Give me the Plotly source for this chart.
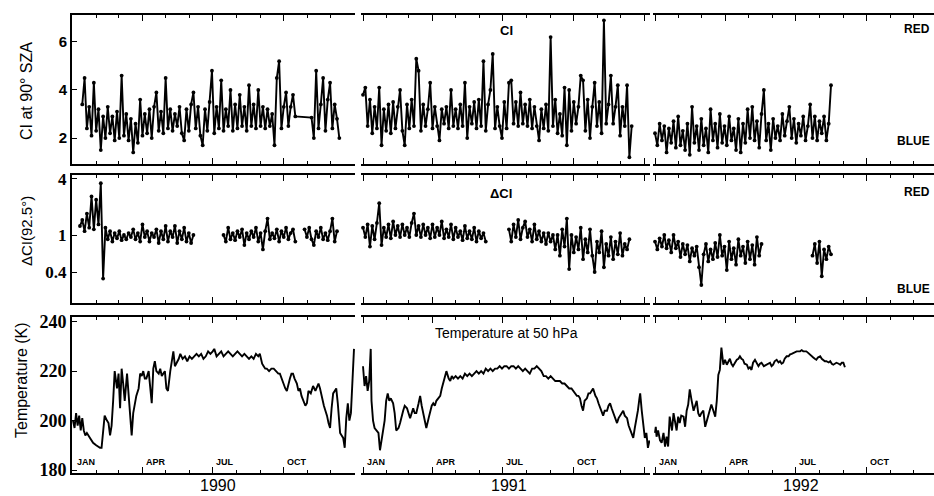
import numpy as np
import pandas as pd
import plotly.graph_objects as go
from plotly.subplots import make_subplots

# ---------------- data ----------------
years = [1990, 1991, 1992]
month_labels = ["JAN", "APR", "JUL", "OCT"]
month_label_months = [1, 4, 7, 10]
year_labels = ["1990", "1991", "1992"]

# Top panel: CI at 90 deg SZA, one value every 3 days from the start day (None = no data)
ci_start = [12, 0, 0]
ci_1990 = [3.4, 4.5, 2.4, 3.3, 2.1, 4.3, 2.3, 3.2, 1.5, 2.9,
           2.0, 3.3, 2.2, 2.9, 1.9, 3.1, 2.0, 4.6, 2.1, 3.0,
           1.9, 2.8, 1.4, 2.6, 1.8, 3.6, 2.1, 3.0, 2.2, 3.2,
           2.0, 3.3, 3.9, 2.3, 3.1, 2.2, 4.5, 2.4, 3.2, 2.3,
           3.0, 2.5, 3.3, 2.2, 1.9, 3.2, 2.3, 3.4, 3.9, 2.4,
           3.3, 2.1, 1.7, 3.2, 2.3, 3.5, 4.8, 2.2, 3.3, 2.4,
           4.4, 2.3, 3.2, 2.5, 4.0, 2.3, 3.4, 2.4, 3.8, 2.5,
           3.3, 2.3, 4.2, 2.5, 3.4, 2.4, 4.0, 2.5, 3.3, 2.4,
           3.2, 2.5, 3.0, 1.7, 4.5, 5.2, 2.4, 3.3, 3.9, 2.5,
           3.3, 3.8, 2.9, None, None, None, None, None, None, 2.85,
           2.0, 4.8, 2.4, 3.4, 4.5, 2.3, 3.6, 4.3, 2.4, 3.4,
           2.8, 2.0]
ci_1991 = [3.8, 4.1, 2.5, 3.6, 2.2, 3.3, 2.4, 4.1, 1.7, 3.2,
           2.3, 3.4, 2.2, 3.5, 2.4, 3.3, 4.0, 2.3, 1.7, 3.4,
           2.4, 3.6, 2.5, 5.3, 4.8, 2.3, 3.4, 2.5, 3.2, 4.3,
           2.4, 3.3, 2.5, 1.9, 3.2, 2.6, 3.3, 2.4, 4.0, 2.5,
           3.2, 2.4, 3.4, 2.5, 4.3, 2.0, 3.3, 2.6, 3.5, 2.4,
           3.6, 2.5, 5.2, 2.3, 3.4, 4.0, 5.5, 2.4, 3.3, 2.5,
           2.0, 3.5, 2.4, 4.3, 4.4, 2.6, 3.5, 2.5, 3.9, 2.6,
           3.4, 2.5, 3.6, 2.4, 3.3, 2.5, 1.9, 3.2, 2.4, 3.4,
           2.3, 6.2, 2.5, 3.6, 2.2, 3.0, 2.1, 4.1, 1.7, 4.0,
           2.3, 3.5, 2.6, 3.3, 4.6, 4.4, 2.3, 3.6, 2.0, 3.3,
           4.3, 2.5, 3.5, 2.2, 6.9, 2.6, 3.4, 4.6, 2.6, 3.3,
           4.2, 2.1, 3.3, 2.5, 4.2, 1.2, 2.5]
ci_1992 = [2.2, 1.7, 2.6, 1.9, 2.5, 1.4, 2.4, 1.8, 2.7, 1.6,
           2.9, 1.7, 2.3, 1.5, 2.6, 1.3, 3.3, 1.8, 2.5, 1.5,
           2.8, 1.7, 2.4, 1.4, 3.2, 1.9, 2.6, 1.6, 3.0, 1.8,
           2.5, 1.7, 2.9, 1.9, 2.4, 1.5, 2.8, 1.4, 2.6, 1.8,
           3.2, 2.0, 3.3, 1.9, 2.7, 1.6, 3.0, 4.0, 1.9, 2.6,
           1.5, 2.8, 2.0, 2.5, 1.9, 3.0, 2.1, 2.7, 3.3, 2.0,
           2.8, 1.8, 2.6, 2.1, 2.9, 1.9, 2.5, 3.4, 2.0, 2.9,
           1.9, 2.7, 2.2, 2.9, 1.9, 2.6, 4.2]

# Middle panel: delta CI (92.5 deg), segments of 3-day values: (start day, values)
dci_1990 = [(9, [1.25, 1.45, 1.1, 1.7, 1.2, 2.6, 1.15, 2.4, 1.3, 3.6,
                 0.34, 1.2, 0.9, 1.1, 0.85, 1.05, 0.92, 1.1, 0.88, 1.0,
                 0.9, 1.05, 0.95, 1.15, 0.9, 1.05, 0.85, 1.3, 0.95, 1.1,
                 0.85, 1.05, 0.95, 1.15, 0.82, 1.1, 0.9, 1.25, 0.85, 1.1,
                 0.95, 1.25, 0.82, 1.1, 0.9, 1.2, 0.85, 1.05, 0.82, 1.0]),
            (195, [1.0, 0.85, 1.2, 0.9, 1.05, 0.88, 1.1, 0.95, 1.15, 0.78,
                   1.05, 0.9, 1.1, 0.95, 1.2, 0.85, 1.05, 0.7, 1.1, 1.5,
                   0.9, 1.05, 0.92, 1.15, 0.85, 1.1, 0.95, 1.2, 0.9, 1.05,
                   1.15, 0.85]),
            (300, [1.15, 0.95, 1.2, 0.9, 0.78, 1.1, 0.95, 1.2, 0.9, 1.05,
                   0.88, 1.1, 1.5, 0.85, 1.1])]
dci_1991 = [(0, [1.2, 0.95, 1.3, 0.75, 1.25, 0.9, 1.35, 2.2, 0.78, 1.2,
                 0.95, 1.3, 0.92, 1.4, 1.0, 1.25, 0.95, 1.3, 1.0, 1.2,
                 0.95, 1.35, 1.7, 1.0, 1.25, 0.95, 1.3, 1.0, 1.2, 0.92,
                 1.3, 0.95, 1.2, 1.0, 1.4, 0.92, 1.15, 0.95, 1.3, 0.9,
                 1.2, 0.95, 1.1, 0.88, 1.25, 0.92, 1.1, 0.9, 1.2, 0.85,
                 1.1, 0.92, 1.05, 0.85]),
            (189, [1.15, 0.85, 1.3, 0.95, 1.45, 0.9, 1.2, 1.4, 0.95, 1.15,
                   0.85, 1.3, 0.9, 1.1, 0.85, 1.05, 0.8, 1.05, 0.85, 1.0,
                   0.7, 1.0, 0.6, 1.15, 0.75, 1.5, 0.43, 1.0, 0.65, 0.95,
                   0.7, 1.2, 0.55, 0.9, 0.65, 1.15, 0.6, 0.4, 0.85, 0.65,
                   1.1, 0.45, 0.8, 0.6, 0.95, 0.55, 0.85, 0.62, 1.05, 0.6,
                   0.8, 0.7, 0.9])]
dci_1992 = [(0, [0.85, 0.7, 0.92, 0.75, 1.0, 0.72, 0.88, 0.65, 1.0, 0.72,
                 0.85, 0.58, 0.8, 0.62, 0.78, 0.52, 0.72, 0.6, 0.75, 0.45,
                 0.29, 0.62, 0.8, 0.52, 0.7, 0.55, 0.82, 0.58, 1.0, 0.6,
                 0.75, 0.42, 0.85, 0.55, 0.72, 0.48, 0.9, 0.6, 0.75, 0.5,
                 0.85, 0.55, 0.78, 0.48, 0.95, 0.6, 0.8]),
            (204, [0.6, 0.8, 0.5, 0.85, 0.36, 0.7, 0.55, 0.75, 0.62])]

# Bottom panel: temperature at 50 hPa (K), day of year -> value
temp_days_1990 = [0, 2, 4, 6, 8, 10, 12, 14, 16, 18, 22, 26, 30, 35, 37, 39, 41, 44, 46, 48,
                  50, 52, 54, 57, 59, 61, 63, 65, 67, 70, 72, 74, 76, 78, 80, 82, 85, 87, 89, 91,
                  93, 95, 98, 100, 102, 104, 106, 108, 111, 113, 115, 117, 119, 121, 123, 126, 128, 130, 132, 134,
                  137, 139, 142, 145, 148, 151, 154, 157, 160, 163, 166, 169, 172, 175, 178, 181, 183, 186, 189, 192,
                  195, 198, 201, 204, 207, 210, 213, 216, 219, 222, 225, 228, 231, 234, 237, 240, 242, 245, 247, 249,
                  251, 254, 257, 260, 263, 266, 268, 270, 272, 275, 277, 279, 281, 283, 285, 287, 290, 292, 294, 296,
                  298, 301, 303, 305, 308, 311, 314, 318, 320, 322, 325, 327, 329, 331, 333, 335, 337, 339, 341, 343,
                  344, 346, 348, 350, 352, 354, 356, 358, 360, 362, 364]
temp_1990 = [200, 197, 203, 198, 202, 196, 201, 196, 194, 195, 193, 191, 190, 189, 189, 195, 202, 200, 199, 194,
             198, 208, 220, 213, 219, 205, 221, 215, 208, 219, 210, 200, 194, 203, 207, 210, 213, 219, 218, 220,
             217, 217, 220, 212, 207, 221, 224, 220, 219, 221, 218, 219, 220, 213, 212, 220, 224, 228, 222, 223,
             225, 227, 225, 226, 224, 226, 225, 226, 227, 226, 227, 225, 226, 228, 227, 228, 229, 226, 227, 228,
             226, 227, 228, 227, 226, 227, 228, 227, 226, 227, 226, 225, 226, 225, 227, 226, 227, 223, 222, 221,
             221, 220, 221, 221, 220, 219, 219, 217, 216, 213, 212, 215, 217, 219, 219, 217, 215, 212, 213, 210,
             208, 206, 207, 212, 211, 214, 212, 215, 213, 210, 206, 204, 202, 199, 197, 205, 211, 212, 213, 207,
             202, 195, 194, 193, 189, 201, 207, 200, 203, 220, 229]
temp_days_1991 = [0, 2, 4, 6, 8, 10, 11, 13, 15, 18, 20, 22, 24, 26, 28, 30, 32, 34, 36, 39,
                  41, 43, 46, 48, 50, 52, 54, 57, 59, 61, 63, 65, 67, 69, 72, 74, 76, 78, 80, 82,
                  85, 87, 89, 91, 93, 95, 98, 100, 102, 104, 106, 108, 111, 113, 115, 117, 120, 123, 126, 129,
                  132, 135, 138, 141, 144, 147, 150, 153, 156, 159, 162, 165, 168, 171, 174, 177, 180, 183, 186, 189,
                  192, 195, 198, 201, 204, 207, 210, 213, 216, 219, 222, 225, 228, 231, 234, 237, 240, 243, 246, 249,
                  252, 255, 258, 261, 264, 267, 270, 272, 275, 277, 279, 281, 283, 285, 287, 290, 292, 294, 296, 298,
                  301, 303, 305, 307, 309, 311, 313, 316, 318, 320, 322, 324, 327, 329, 331, 333, 335, 337, 339, 342,
                  344, 346, 348, 350, 352, 354, 356, 358, 359, 361, 363, 365, 367, 369, 371]
temp_1991 = [222, 214, 218, 212, 216, 229, 208, 200, 197, 196, 195, 188, 192, 195, 200, 208, 211, 208, 209, 207,
             203, 196, 197, 199, 202, 204, 206, 205, 203, 201, 203, 205, 203, 203, 207, 210, 206, 203, 200, 197,
             201, 204, 206, 207, 206, 208, 209, 210, 213, 215, 218, 220, 217, 216, 218, 217, 218, 217, 218, 217,
             219, 218, 219, 218, 219, 220, 219, 220, 219, 221, 220, 221, 220, 221, 221, 222, 221, 222, 222, 221,
             222, 222, 221, 222, 221, 220, 221, 220, 219, 221, 221, 222, 221, 220, 218, 218, 217, 218, 217, 216,
             216, 216, 215, 215, 214, 213, 213, 212, 211, 210, 210, 209, 206, 204, 208, 209, 211, 211, 212, 213,
             210, 209, 207, 205, 203, 202, 204, 204, 206, 207, 205, 203, 200, 199, 201, 202, 203, 204, 202, 201,
             198, 196, 195, 193, 197, 200, 204, 209, 211, 204, 197, 193, 195, 189, 192]
temp_days_1992 = [0, 1, 2, 4, 6.5, 8.6, 11, 13, 15, 17, 19, 22, 24, 26, 28, 30, 32, 34, 37, 39,
                  41, 43, 45, 47.5, 50, 52, 54, 56, 58, 60, 62.6, 65, 67, 69, 71, 73, 75.6, 78, 80, 82,
                  84, 86, 88.5, 90.7, 93, 95, 97, 99, 101, 103.6, 106, 108, 110, 112, 114, 116, 119, 121, 123, 125,
                  127, 129.5, 132, 134, 136, 138, 141, 145, 147, 149, 151, 153, 155, 157.6, 160, 162, 164, 166, 168, 170.5,
                  173, 175, 177, 179, 181, 183.5, 186, 188, 190, 192, 194, 196, 198, 201, 203, 205, 207, 209, 211, 214,
                  216, 218, 220, 222, 225, 227, 229, 231, 233, 235, 238, 240, 242, 244, 246]
temp_1992 = [195, 197.5, 193.5, 196, 192, 191, 195, 189.5, 193.5, 189.5, 201.6, 196, 203, 200, 196, 201.6, 199, 202, 201.6, 197.5,
             204, 206.5, 212.6, 208, 204, 206, 208, 203, 201.6, 203, 204, 197.5, 200, 202, 205, 206.5, 204, 201.6, 208, 218.5,
             220.5, 229.5, 222.6, 224.6, 222.6, 224, 225, 223, 222, 223.4, 224.6, 225, 226, 225, 224.6, 223, 222.6, 221, 221.6, 220.5,
             223.4, 224.6, 223, 222, 223, 223.4, 222, 222.6, 223, 223.4, 222, 222.6, 224, 224.6, 223.5, 224, 223, 223.4, 225, 226,
             226, 226.8, 227, 227.4, 227.5, 228, 228, 228, 228.5, 228, 228, 228, 227.5, 226.8, 226, 225.5, 225, 224.6, 225.5, 226,
             225, 224.6, 224, 224, 223.5, 224, 223, 222.6, 223, 223.4, 223, 222.6, 223.4, 223.4, 221.6]

ci_ticks = [2, 4, 6]
dci_ticks = [0.4, 1, 4]
temp_ticks = [180, 200, 220, 240]

# ---------------- layout geometry (pixels of the 934x496 picture) ----------------
W, H = 934, 496
ML, MR, MT, MB = 72, 0, 15, 23
PW, PH = W - ML - MR, H - MT - MB


def px(x):
    return (x - ML) / PW


def py(y):
    return (H - MB - y) / PH


col_px = [(72, 355), (361, 650), (653, 934)]
col_day_range = [(-1.3, 365.3), (-2.6, 371.7), (-2.6, 361.4)]
row_px = [(15, 164), (175, 303), (317, 473)]
y_ranges = [[0.92, 7.12], [-0.731, 0.645], [178.8, 241.9]]


def dates(year, days):
    return pd.Timestamp(year, 1, 1) + pd.to_timedelta(np.asarray(days, dtype=float), unit="D")


fig = make_subplots(rows=3, cols=3)

ci_all = [ci_1990, ci_1991, ci_1992]
dci_all = [dci_1990, dci_1991, dci_1992]
temp_all = [(temp_days_1990, temp_1990), (temp_days_1991, temp_1991), (temp_days_1992, temp_1992)]

LW, MS = 1.9, 3.8
for c, year in enumerate(years):
    vals = ci_all[c]
    d = ci_start[c] + 3 * np.arange(len(vals))
    fig.add_trace(go.Scatter(x=dates(year, d), y=vals, mode="lines+markers",
                             line=dict(color="black", width=LW),
                             marker=dict(color="black", size=MS),
                             connectgaps=True, showlegend=False), row=1, col=c + 1)
    for start, seg in dci_all[c]:
        d = start + 3 * np.arange(len(seg))
        fig.add_trace(go.Scatter(x=dates(year, d), y=seg, mode="lines+markers",
                                 line=dict(color="black", width=LW),
                                 marker=dict(color="black", size=MS),
                                 showlegend=False), row=2, col=c + 1)
    td, tv = temp_all[c]
    fig.add_trace(go.Scatter(x=dates(year, td), y=tv, mode="lines",
                             line=dict(color="black", width=1.9),
                             showlegend=False), row=3, col=c + 1)

tick_fonts = [dict(family="Liberation Sans", size=15, color="black", weight="bold"),
              dict(family="Liberation Serif", size=17, color="black", weight="bold"),
              dict(family="Liberation Serif", size=18, color="black", weight="bold")]
tick_sets = [ci_ticks, dci_ticks, temp_ticks]

for r in range(3):
    for c, year in enumerate(years):
        n = r * 3 + c + 1
        key = "" if n == 1 else str(n)
        r0 = str(pd.Timestamp(year, 1, 1) + pd.Timedelta(days=col_day_range[c][0]))
        r1 = str(pd.Timestamp(year, 1, 1) + pd.Timedelta(days=col_day_range[c][1]))
        fig.layout["xaxis" + key].update(
            domain=[px(col_px[c][0]), px(col_px[c][1])], type="date", range=[r0, r1],
            showline=True, linecolor="black", linewidth=1.8, mirror="ticks",
            ticks="inside", ticklen=6, tickwidth=1.4, tickcolor="black",
            tick0=f"{year}-01-01", dtick="M3", showticklabels=False,
            showgrid=False, zeroline=False,
            minor=dict(ticks="inside", ticklen=3, tickwidth=1.1, tickcolor="black",
                       tick0=f"{year}-01-01", dtick="M1", showgrid=False))
        ya = dict(domain=[py(row_px[r][1]), py(row_px[r][0])], range=y_ranges[r],
                  showgrid=False, zeroline=False)
        if r == 1:
            ya["type"] = "log"
        if c == 0:
            ya.update(showline=True, linecolor="black", linewidth=2, ticks="inside",
                      ticklen=5, tickwidth=1.4, tickcolor="black",
                      tickmode="array", tickvals=tick_sets[r],
                      ticktext=[str(t) for t in tick_sets[r]], tickfont=tick_fonts[r])
        else:
            ya.update(showline=False, ticks="", showticklabels=False)
        fig.layout["yaxis" + key].update(ya)

sans = "Liberation Sans"


def add_text(text, x, y, size, xanchor="center", yanchor="middle", angle=0, bold=False, family=sans):
    fig.add_annotation(text=text, x=px(x), y=py(y), xref="paper", yref="paper",
                       showarrow=False, xanchor=xanchor, yanchor=yanchor, textangle=angle,
                       font=dict(family=family, size=size, color="black",
                                 weight="bold" if bold else "normal"))


# axis titles
add_text("CI at 90° SZA", 26, 91, 16, angle=-90)
add_text("ΔCI(92.5°)", 26, 231, 15, angle=-90)
add_text("Temperature (K)", 21, 380, 16, angle=-90)

# panel titles
add_text("CI", 506, 31, 13, bold=True)
add_text("ΔCI", 501, 193, 13, bold=True)
add_text("Temperature at 50 hPa", 506, 333, 14)

# RED / BLUE markers at the right edge
narrow = "Liberation Sans Narrow, Liberation Sans"
add_text("RED", 932, 29, 12, xanchor="right", bold=True, family=narrow)
add_text("BLUE", 932, 141, 12, xanchor="right", bold=True, family=narrow)
add_text("RED", 932, 192, 12, xanchor="right", bold=True, family=narrow)
add_text("BLUE", 932, 289, 12, xanchor="right", bold=True, family=narrow)

# month labels inside the bottom panels
for c, year in enumerate(years):
    for lab, m in zip(month_labels, month_label_months):
        fig.add_annotation(text=lab, x=str(pd.Timestamp(year, m, 1) + pd.Timedelta(days=2)),
                           xref=f"x{7 + c}", y=py(462), yref="paper", showarrow=False,
                           xanchor="left", yanchor="middle",
                           font=dict(family=narrow, size=9, color="black", weight="bold"))

# year labels
for lab, xc in zip(year_labels, [218, 509, 801]):
    add_text(lab, xc, 496, 16, yanchor="bottom")

fig.update_layout(width=W, height=H, margin=dict(l=ML, r=MR, t=MT, b=MB, pad=0),
                  paper_bgcolor="white", plot_bgcolor="white", showlegend=False,
                  font=dict(family=sans, color="black"))

fig.write_html("out.html", config={"displayModeBar": False},
               post_script="document.body.style.margin='0';")
